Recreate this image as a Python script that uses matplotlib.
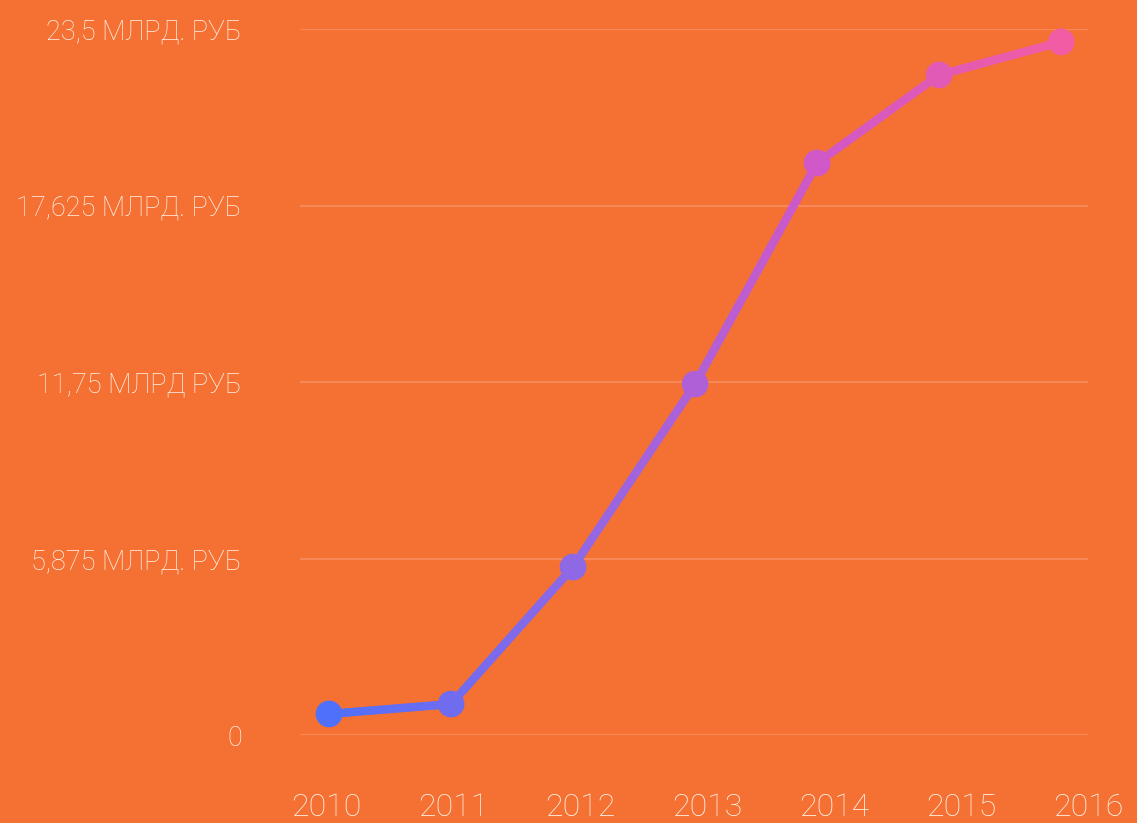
import numpy as np
import matplotlib.pyplot as plt
from matplotlib.collections import LineCollection
from matplotlib.colors import LinearSegmentedColormap

# data (млрд. руб)
years = ["2010", "2011", "2012", "2013", "2014", "2015", "2016"]
values = [0.70, 1.03, 5.59, 11.68, 19.04, 21.97, 23.07]
ytick_vals = [0, 5.875, 11.75, 17.625, 23.5]
ytick_labels = ["0", "5,875 МЛРД. РУБ", "11,75 МЛРД РУБ", "17,625 МЛРД. РУБ", "23,5 МЛРД. РУБ"]

bg = "#F57133"
grid_col = "#F7885A"
text_col = "#FFF3EA"
cmap = LinearSegmentedColormap.from_list("grad", ["#4F70FA", "#8F68E6", "#D058C8", "#F25CA4"])

plt.rcParams['font.family'] = ['Roboto', 'DejaVu Sans']

fig = plt.figure(figsize=(11.37, 8.23), dpi=100, facecolor=bg)
ax = fig.add_axes([300/1137, 1-735/823, 788/1137, 706/823])
ax.set_facecolor(bg)

x = np.arange(len(values))
y = np.array(values)

# gradient line, split into short pieces so the colour moves along x
xs, ys = [], []
for i in range(len(x) - 1):
    t = np.linspace(0, 1, 30)
    xs.extend(x[i] + (x[i+1]-x[i])*t)
    ys.extend(y[i] + (y[i+1]-y[i])*t)
xs, ys = np.array(xs), np.array(ys)
pts = np.column_stack([xs, ys]).reshape(-1, 1, 2)
segs = np.concatenate([pts[:-1], pts[1:]], axis=1)
lc = LineCollection(segs, cmap=cmap, linewidths=6, capstyle='round', zorder=3)
lc.set_array(xs[:-1] / x[-1])
lc.set_clim(0, 1)
ax.add_collection(lc)
ax.scatter(x, y, s=370, c=cmap(x / x[-1]), zorder=4, linewidths=0, clip_on=False)

ax.set_xlim(-0.238, 6.22)
ax.set_ylim(0, 23.5)
for v in ytick_vals:
    ax.axhline(v, color=grid_col, lw=1.5, zorder=1)
for s in ax.spines.values():
    s.set_visible(False)
ax.set_xticks([])
ax.set_yticks(ytick_vals)
ax.set_yticklabels(ytick_labels, fontsize=19.5, color=text_col, fontweight='light')
ax.tick_params(axis='y', length=0, pad=42)

# year labels sit on their own, slightly wider spacing
ax2 = ax.twiny()
ax2.set_xlim(-0.238, 6.22)
ax2.xaxis.set_ticks_position('bottom')
ax2.set_xticks(-0.025 + np.arange(len(years)) * 1.048)
ax2.set_xticklabels(years, fontsize=23, color=text_col, fontweight='light')
ax2.tick_params(axis='x', length=0, pad=42)
for s in ax2.spines.values():
    s.set_visible(False)

fig.savefig("out.png", facecolor=bg)
